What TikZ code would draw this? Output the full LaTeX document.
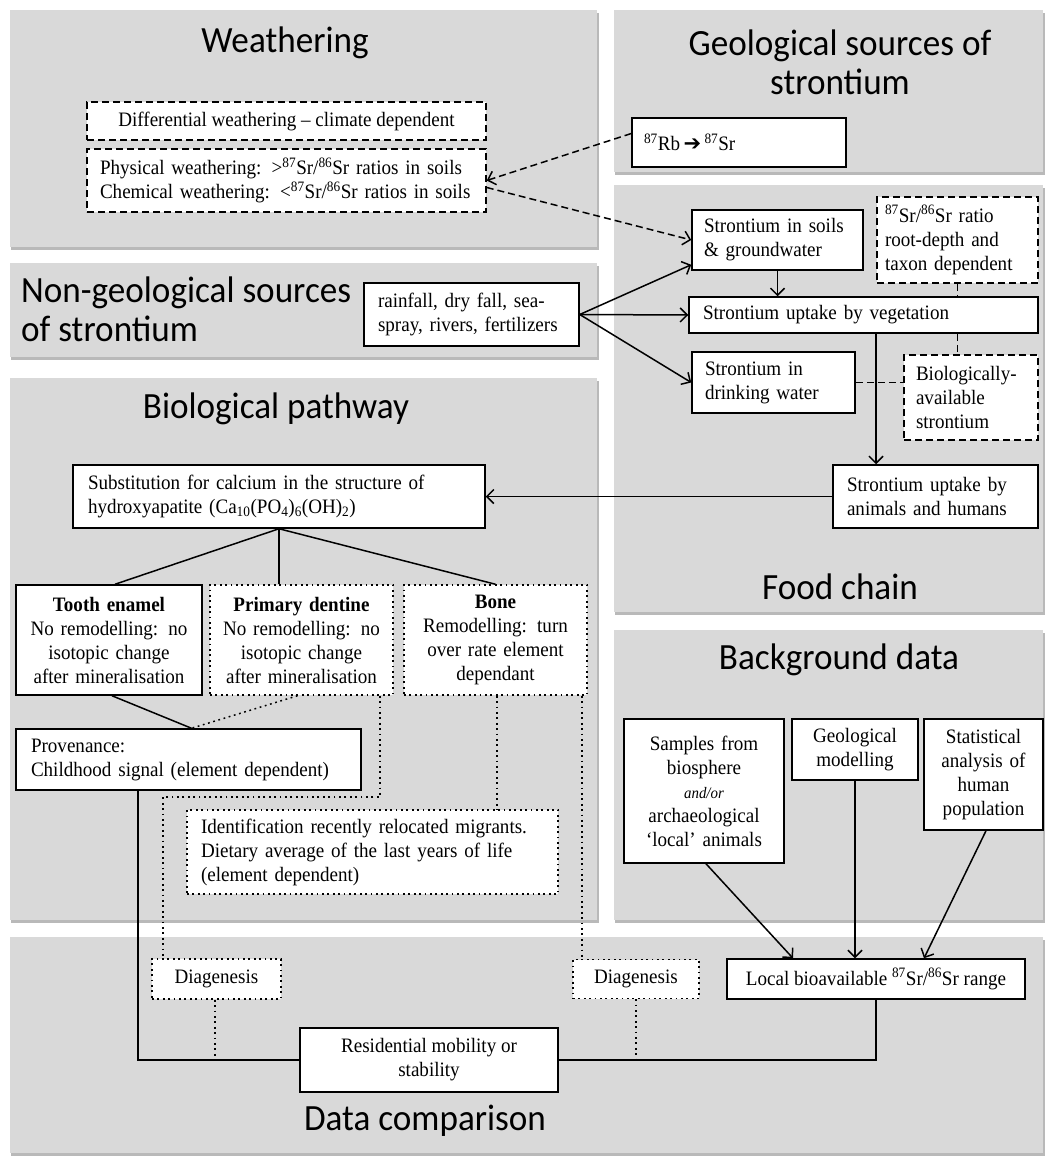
\documentclass[tikz,border=0pt]{standalone}
\usepackage{fontspec}
\setmainfont{Liberation Serif}[FakeStretch=0.93]
\newfontfamily\titlefont{Carlito}[FakeStretch=0.95]
\newfontfamily\symfont{DejaVu Sans}
\usetikzlibrary{arrows.meta,calc}
\definecolor{panelgray}{RGB}{217,217,217}
\definecolor{shadowgray}{RGB}{185,185,185}
\pgfdeclarelayer{bg}
\pgfdeclarelayer{mid}
\pgfsetlayers{bg,mid,main}
\tikzset{
  panel/.style={fill=panelgray, draw=none},
  pshadow/.style={fill=shadowgray, draw=none},
  ttl/.style={font=\titlefont\fontsize{37}{39}\selectfont, align=center, inner sep=0pt},
  box/.style={draw, fill=white, line width=1.5pt, inner ysep=0pt, font=\fontsize{20.5}{24}\selectfont},
  lbox/.style={box, align=left},
  cbox/.style={box, align=center},
  dashbox/.style={dash pattern=on 7pt off 4pt},
  dotbox/.style={dash pattern=on 1.8pt off 3.6pt},
  conn/.style={line width=1.5pt},
  dconn/.style={conn, dash pattern=on 7pt off 4pt},
  oconn/.style={conn, dash pattern=on 1.8pt off 3.6pt},
  arr/.style={-{Straight Barb[length=7pt,width=14pt]}},
}
\begin{document}
\begin{tikzpicture}[x=1pt,y=-1pt]
\useasboundingbox (0,0) rectangle (1045,1159);
\begin{pgfonlayer}{bg}
\fill[white] (0,0) rectangle (1045,1159);
\foreach \a/\b/\c/\d in {10/10/597/247, 614/10/1043/172, 10/263/597/357, 614/185/1043/612, 10/378/597/920, 614/630/1043/920, 10/937/1043/1153}{
  \fill[pshadow] (\a+1,\b+3) rectangle (\c+2,\d+3);
  \fill[panel] (\a,\b) rectangle (\c,\d);
}
\end{pgfonlayer}

% titles
\node[ttl] (tw) at (285,43) {Weathering};
\node[ttl] (tg) at (840,62) {Geological sources of\\strontium};
\node[ttl, align=left, anchor=west] (tn) at (21,309) {Non-geological sources\\of strontium};
\node[ttl] (tb) at (276,409) {Biological pathway};
\node[ttl] (tf) at (840,587) {Food chain};
\node[ttl] (tbd) at (839,660) {Background data};
\node[ttl] (tdc) at (425,1121) {Data comparison};

% weathering
\node[cbox, dashbox, minimum width=399pt, minimum height=38pt] (diff) at (286.5,121) {Differential weathering – climate dependent};
\node[lbox, dashbox, minimum height=63pt, inner xsep=13pt, text width=373pt] (phys) at (286.5,180.5) {Physical weathering: >\textsuperscript{87}Sr/\textsuperscript{86}Sr ratios in soils\\Chemical weathering: <\textsuperscript{87}Sr/\textsuperscript{86}Sr ratios in soils};
% geological
\node[lbox, minimum height=49pt, inner xsep=12pt, text width=190pt] (rb) at (739,142.5) {\textsuperscript{87}Rb\,{\symfont\fontsize{21}{21}\selectfont ➔}\,\textsuperscript{87}Sr};
% non-geological
\node[lbox, minimum height=63pt, inner xsep=14pt, text width=187pt] (rain) at (471.5,314.5) {rainfall, dry fall, sea-\\spray, rivers, fertilizers};
% food chain
\node[lbox, minimum height=60pt, inner xsep=12pt, text width=147pt] (soils) at (777.5,240) {Strontium in soils\\\& groundwater};
\node[lbox, dashbox, minimum height=86pt, inner xsep=8pt, text width=145pt] (taxon) at (957.5,240) {\textsuperscript{87}Sr/\textsuperscript{86}Sr ratio\\root-depth and\\taxon dependent};
\node[lbox, minimum height=36pt, inner xsep=14pt, text width=321pt] (veg) at (863.5,315) {Strontium uptake by vegetation};
\node[lbox, minimum height=61pt, inner xsep=13pt, text width=137pt] (drink) at (773.5,382.5) {Strontium in\\drinking water};
\node[lbox, dashbox, minimum height=85pt, inner xsep=12pt, text width=110pt] (bioav) at (971,397.5) {Biologically-\\available\\strontium};
\node[lbox, minimum height=63pt, inner xsep=14pt, text width=177pt] (animals) at (935.5,496.5) {Strontium uptake by\\animals and humans};
% biological pathway
\node[lbox, minimum height=63pt, inner xsep=15pt, text width=382pt] (subst) at (279,496.5) {Substitution for calcium in the structure of\\hydroxyapatite (Ca\textsubscript{10}(PO\textsubscript{4})\textsubscript{6}(OH)\textsubscript{2})};
\node[cbox, minimum height=110pt, inner xsep=5pt, text width=176pt] (tooth) at (109,640) {\textbf{Tooth enamel}\\No remodelling: no\\isotopic change\\after mineralisation};
\node[cbox, dotbox, minimum height=110pt, inner xsep=5pt, text width=173pt] (dentine) at (301.5,640) {\textbf{Primary dentine}\\No remodelling: no\\isotopic change\\after mineralisation};
\node[cbox, dotbox, minimum height=110pt, inner xsep=5pt, text width=173pt] (bone) at (495.5,640) {\textbf{Bone}\\Remodelling: turn\\over rate element\\dependant};
\node[lbox, minimum height=61pt, inner xsep=15pt, text width=315pt] (prov) at (188.5,759.5) {Provenance:\\Childhood signal (element dependent)};
\node[lbox, dotbox, minimum height=84pt, inner xsep=14pt, text width=343pt] (ident) at (372.5,852) {Identification recently relocated migrants.\\Dietary average of the last years of life\\(element dependent)};
% background data
\node[cbox, minimum height=144pt, inner xsep=4pt, text width=152pt] (samples) at (704,791) {Samples from\\biosphere\\{\itshape\fontsize{16}{20}\selectfont and/or}\\archaeological\\‘local’ animals};
\node[cbox, minimum height=61pt, inner xsep=4pt, text width=118pt] (geomod) at (855,749.5) {Geological\\modelling};
\node[cbox, minimum height=111pt, inner xsep=3pt, text width=113pt] (stat) at (983.5,774.5) {Statistical\\analysis of\\human\\population};
% data comparison
\node[cbox, dotbox, minimum width=129pt, minimum height=40pt] (diag1) at (216.5,979) {Diagenesis};
\node[cbox, dotbox, minimum width=126pt, minimum height=39pt] (diag2) at (636,979) {Diagenesis};
\node[cbox, minimum width=258pt, minimum height=64pt] (resid) at (429,1060) {Residential mobility or\\stability};
\node[cbox, minimum width=298pt, minimum height=40pt] (local) at (876,979) {Local bioavailable \textsuperscript{87}Sr/\textsuperscript{86}Sr range};

\coordinate (fc) at (876,0);
\coordinate (dj1) at (380,797);
\coordinate (dj2) at (163,797);
\coordinate (bx1) at (497,0);
\coordinate (bx2) at (582,0);
\coordinate (pl) at (138,0);
\coordinate (d1x) at (215,0);

\begin{pgfonlayer}{mid}
% weathering dashed arrows
\draw[dconn, arr] ($(rb.west)+(0,-9)$) -- (phys.east);
\draw[dconn, arr] ($(phys.east)+(0,7)$) -- (soils.west);
% non-geological arrows
\draw[conn, arr] (rain.east) -- ($(soils.south west)+(0,-6)$);
\draw[conn, arr] (rain.east) -- (veg.west);
\draw[conn, arr] (rain.east) -- (drink.west);
% food chain
\draw[conn, arr] (soils.south) -- (soils.south |- veg.north);
\draw[dconn] (taxon.south) -- (taxon.south |- veg.north);
\draw[dconn] (taxon.south |- veg.south) -- (taxon.south |- bioav.north);
\draw[dconn] (drink.east) -- (bioav.west |- drink.east);
\draw[conn, arr] (veg.south -| fc) -- (animals.north -| fc);
\draw[conn, arr] (animals.west) -- (subst.east |- animals.west);
% biological pathway
\draw[conn] (subst.south) -- ($(tooth.north)+(6,0)$);
\draw[conn] (subst.south) -- (subst.south |- dentine.north);
\draw[conn] (subst.south) -- (bone.north);
\draw[conn] ($(tooth.south)+(3,0)$) -- ($(prov.north)+(3,0)$);
\draw[oconn] ($(dentine.south)+(-4,0)$) -- ($(prov.north)+(3,0)$);
\draw[oconn] (dentine.south -| dj1) -- (dj1) -- (dj2) -- (dj2 |- diag1.north);
\draw[oconn] (bone.south -| bx1) -- (ident.north -| bx1);
\draw[oconn] (bone.south -| bx2) -- (diag2.north -| bx2);
% data comparison
\draw[conn] (prov.south -| pl) |- (resid.west);
\draw[oconn] (diag1.south -| d1x) -- (resid.west -| d1x);
\draw[oconn] (diag2.south) -- (diag2.south |- resid.east);
\draw[conn] (local.south) |- (resid.east);
% background data
\draw[conn, arr] ($(samples.south)+(2,0)$) -- ($(local.north)+(-83,0)$);
\draw[conn, arr] (geomod.south) -- (geomod.south |- local.north);
\draw[conn, arr] ($(stat.south)+(2.5,0)$) -- ($(local.north)+(48,0)$);
\end{pgfonlayer}
\end{tikzpicture}
\end{document}
